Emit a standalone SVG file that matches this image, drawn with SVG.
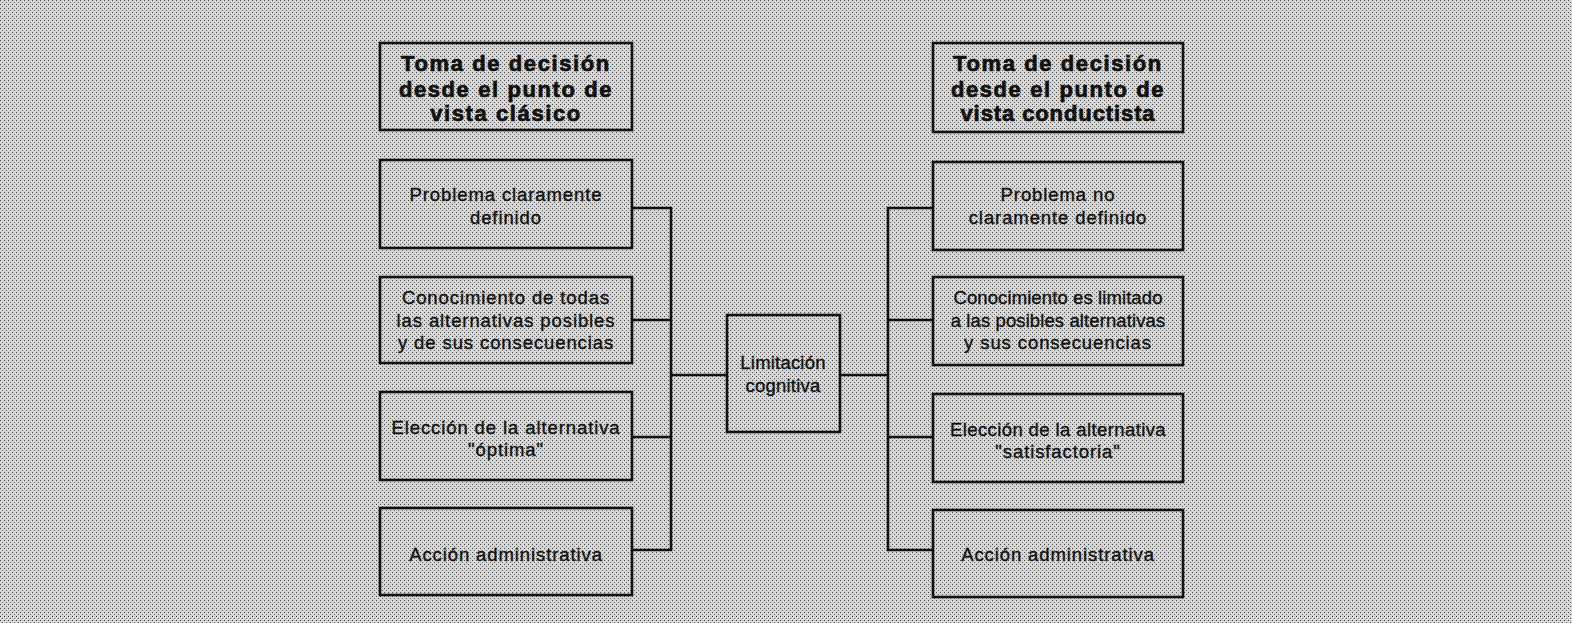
<svg xmlns="http://www.w3.org/2000/svg" width="1572" height="623" viewBox="0 0 1572 623">
<defs>
<pattern id="dots" width="4" height="4" patternUnits="userSpaceOnUse">
<rect width="4" height="4" fill="#d6d6d6"/>
<rect x="0" y="0" width="1" height="1" fill="#444"/>
<rect x="2" y="2" width="1" height="1" fill="#666"/>
</pattern>
</defs>
<style>
.box{fill:url(#dots);stroke:#111;stroke-width:2.6}
.t{font-family:"Liberation Sans",Arial,sans-serif;font-size:22px;font-weight:bold;fill:#111;stroke:#111;stroke-width:0.7;text-anchor:middle;letter-spacing:1.6px}
.b{font-family:"Liberation Sans",Arial,sans-serif;font-size:18.5px;fill:#111;stroke:#111;stroke-width:0.35;text-anchor:middle;letter-spacing:0.9px}
.c{fill:none;stroke:#111;stroke-width:2.6}
</style>
<rect width="1572" height="623" fill="url(#dots)"/>
<g id="connectors">
<polyline class="c" points="632,208 671,208 671,550 632,550"/>
<line class="c" x1="632" y1="320" x2="671" y2="320"/>
<line class="c" x1="632" y1="437" x2="671" y2="437"/>
<line class="c" x1="671" y1="375" x2="727" y2="375"/>
<line class="c" x1="840" y1="375" x2="888" y2="375"/>
<polyline class="c" points="933,208 888,208 888,550 933,550"/>
<line class="c" x1="888" y1="320" x2="933" y2="320"/>
<line class="c" x1="888" y1="437" x2="933" y2="437"/>
</g>
<g id="title-left">
<rect class="box" x="380" y="43" width="252" height="87"/>
<text class="t" x="506" y="71">Toma de decisión</text>
<text class="t" x="506" y="97">desde el punto de</text>
<text class="t" x="506" y="121">vista clásico</text>
</g>
<g id="l1">
<rect class="box" x="380" y="160" width="252" height="88"/>
<text class="b" x="506" y="201">Problema claramente</text>
<text class="b" x="506" y="224">definido</text>
</g>
<g id="l2">
<rect class="box" x="380" y="277" width="252" height="86"/>
<text class="b" x="506" y="304">Conocimiento de todas</text>
<text class="b" x="506" y="327">las alternativas posibles</text>
<text class="b" x="506" y="349">y de sus consecuencias</text>
</g>
<g id="l3">
<rect class="box" x="380" y="392" width="252" height="88"/>
<text class="b" x="506" y="434">Elección de la alternativa</text>
<text class="b" x="506" y="456">"óptima"</text>
</g>
<g id="l4">
<rect class="box" x="380" y="508" width="252" height="87"/>
<text class="b" x="506" y="561">Acción administrativa</text>
</g>
<g id="center">
<rect class="box" x="727" y="315" width="113" height="117"/>
<text class="b" x="783" y="369" style="letter-spacing:0.2px">Limitación</text>
<text class="b" x="783" y="392" style="letter-spacing:0.2px">cognitiva</text>
</g>
<g id="title-right">
<rect class="box" x="933" y="43" width="250" height="89"/>
<text class="t" x="1058" y="71">Toma de decisión</text>
<text class="t" x="1058" y="97">desde el punto de</text>
<text class="t" x="1058" y="121" style="letter-spacing:0.9px">vista conductista</text>
</g>
<g id="r1">
<rect class="box" x="933" y="162" width="250" height="88"/>
<text class="b" x="1058" y="201">Problema no</text>
<text class="b" x="1058" y="224">claramente definido</text>
</g>
<g id="r2">
<rect class="box" x="933" y="277" width="250" height="88"/>
<text class="b" x="1058" y="304" style="letter-spacing:0.1px">Conocimiento es limitado</text>
<text class="b" x="1058" y="327" style="letter-spacing:0.1px">a las posibles alternativas</text>
<text class="b" x="1058" y="349">y sus consecuencias</text>
</g>
<g id="r3">
<rect class="box" x="933" y="394" width="250" height="88"/>
<text class="b" x="1058" y="436" style="letter-spacing:0.4px">Elección de la alternativa</text>
<text class="b" x="1058" y="458">"satisfactoria"</text>
</g>
<g id="r4">
<rect class="box" x="933" y="510" width="250" height="87"/>
<text class="b" x="1058" y="561">Acción administrativa</text>
</g>
</svg>
